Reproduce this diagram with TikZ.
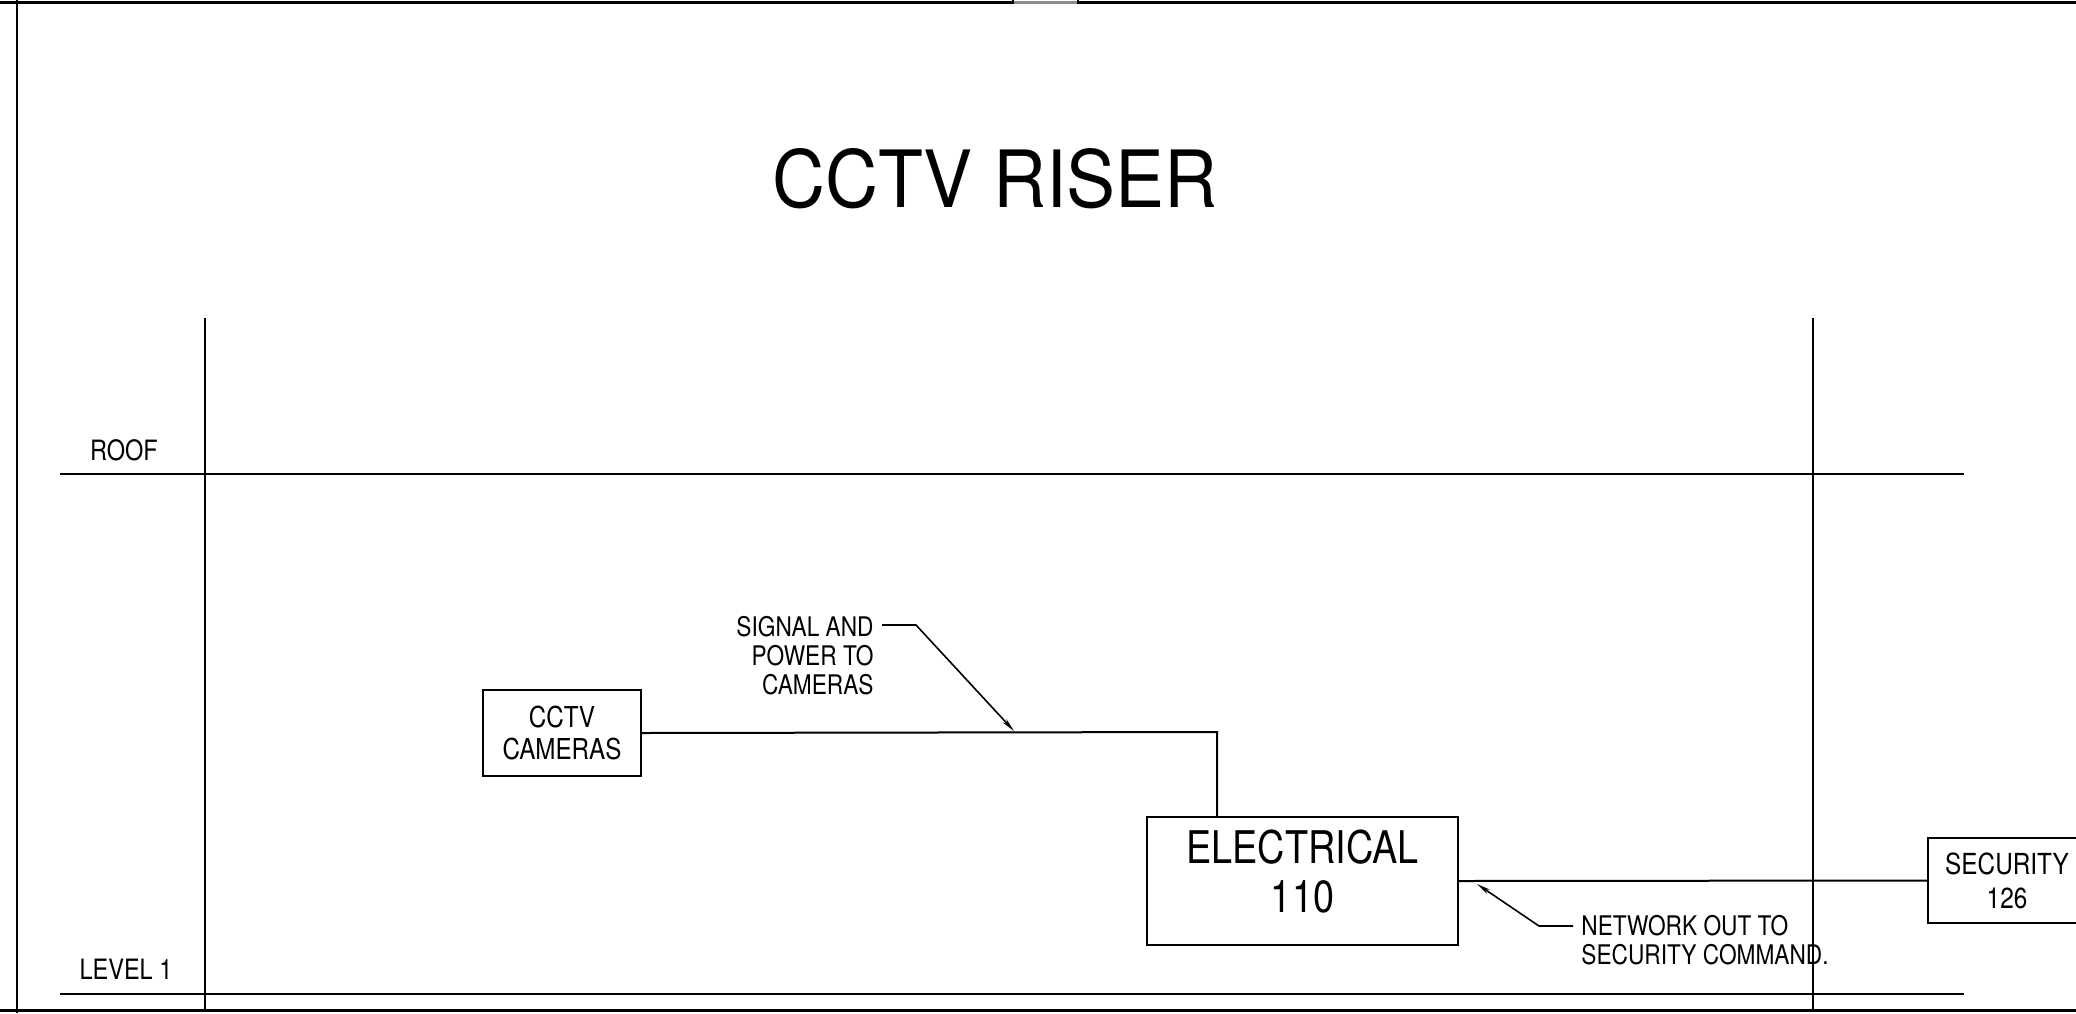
\documentclass[tikz,border=0pt]{standalone}
\usepackage{fontspec}
\setmainfont{TeX Gyre Heros}[FakeStretch=0.84]
\newfontfamily\titlefont{TeX Gyre Heros}[FakeStretch=0.93]
\usetikzlibrary{arrows.meta}

\tikzset{
  room/.style={draw, line width=1pt, inner sep=0pt, align=center},
  wire/.style={line width=1pt},
  leader/.style={line width=0.8pt, -{Stealth[length=7pt,width=2.6pt]}},
  note/.style={inner sep=0pt, font=\fontsize{13.5}{14.5}\selectfont},
}

\begin{document}
\begin{tikzpicture}[x=0.5pt, y=-0.5pt]
        \useasboundingbox (0,0) rectangle (2076,1013);
        % sheet border
        \draw[line width=1.5pt] (0,2) -- (2076,2);
        \draw[line width=1.5pt] (0,1010) -- (2076,1010);
        \draw[line width=1pt] (17,0) -- (17,1013);
        \draw[black!45, line width=1.5pt] (1013,2) -- (1078,2);
        \draw[line width=0.8pt] (1013,0) -- (1013,4) (1078,0) -- (1078,4);

        \node[font=\titlefont\fontsize{39.5}{40}\selectfont, inner sep=0pt] (title) at (995,179) {CCTV RISER};

        % floors and risers
        \foreach \y in {474,994}{
          \draw[wire] (60,\y) -- (1964,\y);
        }
        \foreach \x in {205,1813}{
          \draw[wire] (\x,318) -- (\x,1010);
        }
        \node[note, font=\fontsize{14}{16}\selectfont] (roof) at (124,450) {ROOF};
        \node[note, font=\fontsize{14}{16}\selectfont] (level) at (126,969) {LEVEL 1};

        % rooms
        \node[room, minimum width=79pt, minimum height=43pt, font=\fontsize{14.4}{16}\selectfont] (cam) at (562,733) {CCTV\\CAMERAS};
        \node[room, minimum width=155.5pt, minimum height=64pt] (elec) at (1302.5,881) {};
        \node[inner sep=0pt, align=center, font=\fontsize{22.5}{24.5}\selectfont] (electxt) at ([yshift=4.75pt]elec.center) {ELECTRICAL\\110};
        \node[room, minimum width=79pt, minimum height=42.5pt, font=\fontsize{14.5}{17}\selectfont] (sec) at (2007,880.5) {SECURITY\\126};

        % cabling
        \coordinate (bend) at (1217,732);
        \draw[wire] (cam.east) -- (bend) -- (bend |- elec.north);
        \draw[wire] (elec.east) -- (sec.west);

        % notes
        \node[note, align=right, anchor=north east] (signal) at (874,615.5) {SIGNAL AND\\POWER TO\\CAMERAS};
        \coordinate (sigstart) at (882,625);
        \coordinate (sigknee) at (916,625);
        \coordinate (sigtip) at (1014,731);
        \draw[leader] (sigstart) -- (sigknee) -- (sigtip);

        \node[note, align=left, anchor=north west] (network) at (1581,914.5) {NETWORK OUT TO\\SECURITY COMMAND.};
        \coordinate (netstart) at (1573,926);
        \coordinate (netknee) at (1539,926);
        \coordinate (nettip) at (1477,884);
        \draw[leader] (netstart) -- (netknee) -- (nettip);

      \end{tikzpicture}
\end{document}
